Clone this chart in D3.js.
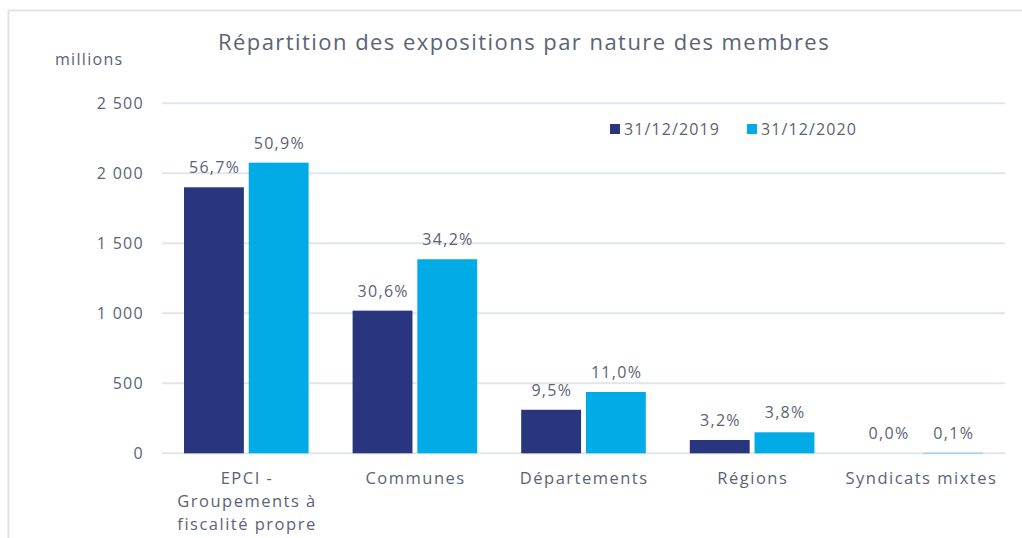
<!DOCTYPE html>
<html>
<head>
<meta charset="utf-8">
<script src="https://cdn.jsdelivr.net/npm/d3@7"></script>
<style>
  body { margin: 0; background: #fff; }
  svg text { font-family: "Open Sans", sans-serif; fill: #5b6374; letter-spacing: 1.3px; }
</style>
</head>
<body>
<div id="root"></div>
<script>
const w = 1022;
const h = 538;
const marginLeft = 162;
const marginRight = 17;
const yTop = 103.3;
const yBottom = 453.3;

const categories = [
  ["EPCI -", "Groupements à", "fiscalité propre"],
  ["Communes"],
  ["Départements"],
  ["Régions"],
  ["Syndicats mixtes"],
];
const seriesNames = ["31/12/2019", "31/12/2020"];
const values2019 = [1900, 1019, 311, 95, 0];
const values2020 = [2076, 1386, 438, 150, 3];
const pct2019 = ["56,7%", "30,6%", "9,5%", "3,2%", "0,0%"];
const pct2020 = ["50,9%", "34,2%", "11,0%", "3,8%", "0,1%"];
const yTicks = [0, 500, 1000, 1500, 2000, 2500];
const yTickLabels = ["0", "500", "1 000", "1 500", "2 000", "2 500"];
const colors = ["#29367f", "#00abe6"];

const data = categories.map((c, i) => ({
  key: i,
  lines: c,
  vals: [
    { s: 0, v: values2019[i], p: pct2019[i] },
    { s: 1, v: values2020[i], p: pct2020[i] },
  ],
}));

const svg = d3
  .select("#root")
  .append("svg")
  .attr("width", w)
  .attr("height", h);

// frame
svg
  .append("path")
  .attr("d", `M8.5,${h} V10.5 H${w}`)
  .attr("fill", "none")
  .attr("stroke", "#dfe3ea")
  .attr("stroke-width", 2);

const x0 = d3
  .scaleBand()
  .domain(data.map((d) => d.key))
  .range([marginLeft, w - marginRight])
  .paddingInner(0.261)
  .paddingOuter(0.1305);

const x1 = d3
  .scaleBand()
  .domain([0, 1])
  .range([0, x0.bandwidth()])
  .paddingInner(0.075);

const y = d3.scaleLinear().domain([0, 2500]).range([yBottom, yTop]);

// grid
svg
  .append("g")
  .selectAll("line")
  .data(yTicks)
  .join("line")
  .attr("x1", marginLeft)
  .attr("x2", w - marginRight)
  .attr("y1", (d) => y(d))
  .attr("y2", (d) => y(d))
  .attr("stroke", "#e1e5ec")
  .attr("stroke-width", 2);

// y labels
svg
  .append("g")
  .selectAll("text")
  .data(yTicks)
  .join("text")
  .attr("x", 144)
  .attr("y", (d) => y(d) + 6)
  .attr("text-anchor", "end")
  .attr("font-size", 16)
  .text((d, i) => yTickLabels[i]);

svg
  .append("text")
  .attr("x", 55)
  .attr("y", 65)
  .attr("font-size", 16)
  .text("millions");

svg
  .append("text")
  .attr("x", 524)
  .attr("y", 50)
  .attr("text-anchor", "middle")
  .attr("font-size", 22)
  .style("letter-spacing", "1.45px")
  .text("Répartition des expositions par nature des membres");

// bars
const groups = svg
  .append("g")
  .selectAll("g")
  .data(data)
  .join("g")
  .attr("transform", (d) => `translate(${x0(d.key)},0)`);

groups
  .selectAll("rect")
  .data((d) => d.vals)
  .join("rect")
  .attr("x", (d) => x1(d.s))
  .attr("width", x1.bandwidth())
  .attr("y", (d) => y(d.v))
  .attr("height", (d) => y(0) - y(d.v))
  .attr("fill", (d) => colors[d.s]);

groups
  .selectAll("text.pct")
  .data((d) => d.vals)
  .join("text")
  .attr("class", "pct")
  .attr("x", (d) => x1(d.s) + x1.bandwidth() / 2 + 0.7)
  .attr("y", (d) => y(d.v) - 14)
  .attr("text-anchor", "middle")
  .attr("font-size", 16)
  .text((d) => d.p);

// category labels
groups
  .append("text")
  .attr("text-anchor", "middle")
  .attr("font-size", 16.5)
  .style("letter-spacing", "1.5px")
  .selectAll("tspan")
  .data((d) => d.lines)
  .join("tspan")
  .attr("x", x0.bandwidth() / 2 + 0.7)
  .attr("y", (d, i) => 484 + i * 23)
  .text((d) => d);

// legend
const legend = svg
  .append("g")
  .selectAll("g")
  .data(seriesNames)
  .join("g")
  .attr("transform", (d, i) => `translate(${610 + i * 137},124)`);

legend
  .append("rect")
  .attr("width", 10)
  .attr("height", 10)
  .attr("fill", (d, i) => colors[i]);

legend
  .append("text")
  .attr("x", 14)
  .attr("y", 11)
  .attr("font-size", 16)
  .style("letter-spacing", "1.1px")
  .text((d) => d);
</script>
</body>
</html>
